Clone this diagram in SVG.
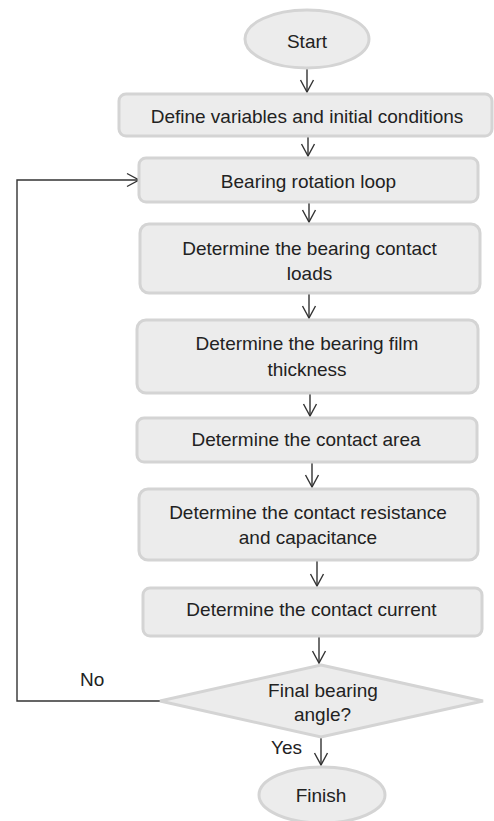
<svg xmlns="http://www.w3.org/2000/svg" width="494" height="821" viewBox="0 0 494 821">
<defs>
<style>
.nd{fill:#ececec;stroke:#d4d4d4;stroke-width:3}
.t{font-family:"Liberation Sans",Arial,sans-serif;font-size:19px;fill:#222;text-anchor:middle}
.tl{font-family:"Liberation Sans",Arial,sans-serif;font-size:19px;fill:#222}
.c{fill:none;stroke:#333;stroke-width:1.4}
</style>
<marker id="ah" viewBox="-13 -8 15 16" refX="0" refY="0" markerWidth="15" markerHeight="16" markerUnits="userSpaceOnUse" orient="auto">
<path d="M-12,-6.5 L0,0 L-12,6.5" fill="none" stroke="#333" stroke-width="1.4"/>
</marker>
</defs>
<rect width="494" height="821" fill="#fff"/>
<g id="connectors">
<path class="c" d="M307,69 V92" marker-end="url(#ah)"/>
<path class="c" d="M308,137 V156" marker-end="url(#ah)"/>
<path class="c" d="M309,203 V222" marker-end="url(#ah)"/>
<path class="c" d="M309,294 V318" marker-end="url(#ah)"/>
<path class="c" d="M310,394 V416" marker-end="url(#ah)"/>
<path class="c" d="M312,463 V487" marker-end="url(#ah)"/>
<path class="c" d="M317,561 V586" marker-end="url(#ah)"/>
<path class="c" d="M319,637 V663" marker-end="url(#ah)"/>
<path class="c" d="M321,738 V765" marker-end="url(#ah)"/>
<path class="c" d="M160,701 H17 V180 H139" marker-end="url(#ah)"/>
<text class="tl" x="80" y="686">No</text>
<text class="tl" x="271" y="754">Yes</text>
</g>
<g id="start">
<ellipse class="nd" cx="307" cy="39" rx="62" ry="29"/>
<text class="t" x="307" y="48">Start</text>
</g>
<g id="define">
<rect class="nd" x="119" y="94" width="373" height="42" rx="7"/>
<text class="t" x="307" y="123">Define variables and initial conditions</text>
</g>
<g id="loop">
<rect class="nd" x="139" y="158" width="339" height="44" rx="7"/>
<text class="t" x="308.5" y="188">Bearing rotation loop</text>
</g>
<g id="loads">
<rect class="nd" x="140" y="224" width="340" height="69" rx="9"/>
<text class="t" x="309.5" y="255">Determine the bearing contact</text>
<text class="t" x="309.5" y="280">loads</text>
</g>
<g id="film">
<rect class="nd" x="137" y="320" width="341" height="73" rx="9"/>
<text class="t" x="307" y="350">Determine the bearing film</text>
<text class="t" x="307" y="376">thickness</text>
</g>
<g id="area">
<rect class="nd" x="137" y="418" width="340" height="44" rx="7"/>
<text class="t" x="306" y="446">Determine the contact area</text>
</g>
<g id="resist">
<rect class="nd" x="139" y="489" width="339" height="71" rx="9"/>
<text class="t" x="308" y="519">Determine the contact resistance</text>
<text class="t" x="308" y="544">and capacitance</text>
</g>
<g id="current">
<rect class="nd" x="143" y="588" width="339" height="48" rx="7"/>
<text class="t" x="311.5" y="616">Determine the contact current</text>
</g>
<g id="decision">
<polygon class="nd" points="321,665 483,701 321,737 160,701"/>
<text class="t" x="323" y="697">Final bearing</text>
<text class="t" x="322.5" y="721">angle?</text>
</g>
<g id="finish">
<ellipse class="nd" cx="322" cy="795" rx="63" ry="28"/>
<text class="t" x="321" y="802">Finish</text>
</g>
</svg>
